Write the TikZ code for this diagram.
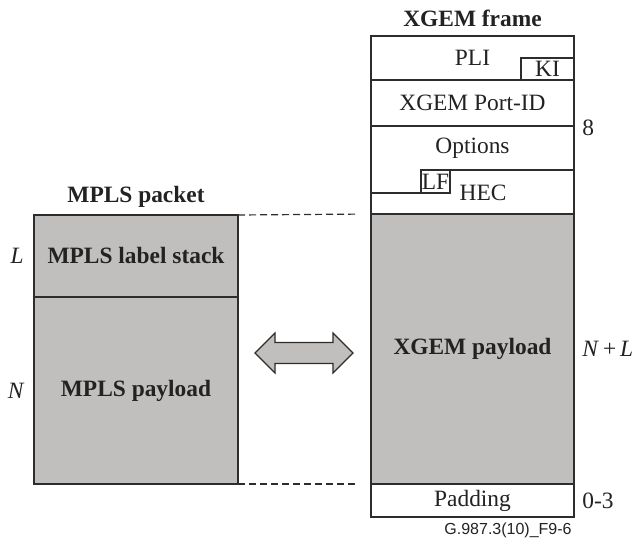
\documentclass[tikz,border=0pt]{standalone}
\usepackage{fontspec}
\setmainfont{Liberation Serif}
\newfontfamily\capfont{Liberation Sans}
\definecolor{paygray}{RGB}{192, 191, 189}
\definecolor{linegray}{RGB}{45, 45, 45}
\definecolor{inkgray}{RGB}{35, 33, 34}
\usepackage{tikz}
\usetikzlibrary{positioning, calc}

\begin{document}
\begin{tikzpicture}[x=0.5pt, y=-0.5pt,
    every node/.style={text=inkgray, font=\fontsize{11.7}{14}\selectfont},
    rowbox/.style={rectangle, outer sep=0pt, inner sep=0pt, minimum width=101.5pt},
    graybox/.style={rowbox, draw=linegray, line width=0.6pt, fill=paygray, font=\fontsize{11.7}{14}\selectfont\bfseries},
    tagbox/.style={rectangle, draw=linegray, line width=0.6pt, fill=white, inner sep=0pt, outer sep=0pt},
    title/.style={font=\fontsize{11.7}{14}\selectfont\bfseries},
    guide/.style={draw=linegray, line width=0.6pt, dash pattern=on 3.5pt off 2pt, shorten >=7pt},
    frameline/.style={draw=linegray, line width=0.6pt}]
  \useasboundingbox (0,0) rectangle (636,544);

  % MPLS packet
  \node[graybox, minimum width=102pt, minimum height=41pt] (stack) at (136,256) {MPLS label stack};
  \node[graybox, minimum width=102pt, minimum height=93.5pt, below=0pt of stack] (mplspay) {MPLS payload};
  \node[title, above=0pt of stack] (mplstitle) {MPLS packet};
  \node[anchor=east, inner sep=0pt, font=\fontsize{11.7}{14}\selectfont\itshape] (lenL) at ([xshift=-5pt]stack.west) {L};
  \node[anchor=east, inner sep=0pt, font=\fontsize{11.7}{14}\selectfont\itshape] (lenN) at ([xshift=-5pt]mplspay.west) {N};

  % XGEM frame
  \node[rowbox, minimum height=22pt] (pli) at (472.5,58) {\raisebox{-1.5pt}{PLI}};
  \node[rowbox, minimum height=23pt, below=0pt of pli] (portid) {XGEM Port-ID};
  \node[rowbox, minimum height=22pt, below=0pt of portid] (opts) {Options};
  \node[rowbox, minimum height=22pt, below=0pt of opts] (hec) {};
  \node[graybox, minimum height=135pt, below=0pt of hec] (payload) {XGEM payload};
  \node[rowbox, frameline, fill=white, minimum height=16.5pt, below=0pt of payload] (pad) {Padding};
  \node[title, above=1pt of pli] (xgemtitle) {XGEM frame};

  \draw[frameline] (pli.north west) rectangle (hec.south east);
  \draw[frameline] (pli.south west) -- (pli.south east);
  \draw[frameline] (portid.south west) -- (portid.south east);

  \node[tagbox, anchor=south east, minimum width=26.5pt, minimum height=11pt] (ki) at (pli.south east) {KI};
  \node[tagbox, minimum width=14.5pt, minimum height=11.5pt] (lf) at (435.5,181.5) {LF};
  \node (hectext) at (483,193) {HEC};
  \draw[frameline] (opts.south east) -- (lf.north west);
  \draw[frameline] (lf.south west) -- (lf.south west -| hec.west);

  % sizes
  \node[anchor=west, inner sep=0pt] (len8) at ([xshift=4pt, yshift=-1pt]portid.south east) {8};
  \node[anchor=west, inner sep=0pt] (lenNL) at ([xshift=4pt]payload.east) {\textit{N}\,+\,\textit{L}};
  \node[anchor=west, inner sep=0pt] (len03) at ([xshift=4pt]pad.east) {0-3};

  % mapping
  \draw[guide] (stack.north east) -- (payload.north west);
  \draw[guide] (mplspay.south east) -- (pad.north west);
  \coordinate (conv) at (304,353);
  \begin{scope}[shift={(conv)}]
    \draw[frameline, fill=paygray, line join=miter]
      (-49,0) -- (-29,-20) -- (-29,-10.5) -- (29,-10.5) -- (29,-20) -- (49,0)
      -- (29,20) -- (29,10.5) -- (-29,10.5) -- (-29,20) -- cycle;
  \end{scope}

  \node[font=\capfont\fontsize{8}{10}\selectfont] (figid) at (508,530) {G.987.3(10)\_F9-6};
\end{tikzpicture}
\end{document}
